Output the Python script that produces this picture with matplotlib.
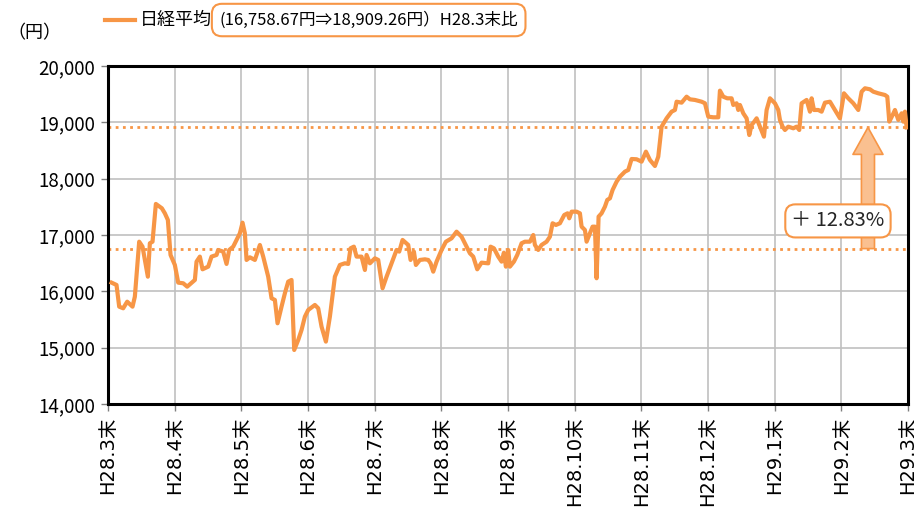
import matplotlib
matplotlib.use("Agg")
import matplotlib.pyplot as plt
import numpy as np
from matplotlib.patches import FancyArrowPatch
from matplotlib.lines import Line2D

plt.rcParams['font.family'] = ['Noto Sans CJK JP', 'DejaVu Sans']

# month labels (month-end positions 0..12)
month_labels = ["H28.3末", "H28.4末", "H28.5末", "H28.6末", "H28.7末", "H28.8末",
                "H28.9末", "H28.10末", "H28.11末", "H28.12末", "H29.1末", "H29.2末", "H29.3末"]

# position in months since H28.3末 and Nikkei value
months = [0.056, 0.13, 0.17, 0.23, 0.29, 0.37, 0.405, 0.47, 0.52, 0.60, 0.63, 0.67,
          0.72, 0.81, 0.855, 0.90, 0.94, 1.005, 1.055, 1.13, 1.19, 1.305, 1.33, 1.38,
          1.42, 1.505, 1.555, 1.63, 1.655, 1.73, 1.78, 1.82, 1.88, 1.93, 1.98, 2.02,
          2.055, 2.08, 2.13, 2.205, 2.28, 2.33, 2.405, 2.455, 2.505, 2.545, 2.605, 2.655,
          2.705, 2.755, 2.795, 2.855, 2.905, 2.955, 3.005, 3.105, 3.155, 3.205, 3.27, 3.33,
          3.405, 3.48, 3.555, 3.605, 3.64, 3.69, 3.73, 3.805, 3.855, 3.88, 3.93, 4.005,
          4.055, 4.12, 4.18, 4.255, 4.33, 4.37, 4.42, 4.505, 4.54, 4.59, 4.62, 4.68,
          4.755, 4.805, 4.84, 4.88, 4.93, 5.005, 5.07, 5.155, 5.23, 5.305, 5.38, 5.43,
          5.48, 5.54, 5.605, 5.705, 5.74, 5.79, 5.855, 5.905, 5.94, 5.97, 6.005, 6.03,
          6.09, 6.14, 6.205, 6.255, 6.33, 6.38, 6.405, 6.455, 6.505, 6.58, 6.63, 6.67,
          6.72, 6.78, 6.845, 6.895, 6.92, 6.955, 7.03, 7.08, 7.105, 7.155, 7.18, 7.23,
          7.27, 7.305, 7.33, 7.36, 7.405, 7.455, 7.49, 7.53, 7.57, 7.63, 7.68, 7.755,
          7.805, 7.855, 7.93, 8.005, 8.07, 8.13, 8.205, 8.255, 8.305, 8.38, 8.455, 8.505,
          8.53, 8.605, 8.68, 8.73, 8.805, 8.905, 8.955, 9.005, 9.08, 9.155, 9.18, 9.23,
          9.29, 9.355, 9.38, 9.43, 9.455, 9.48, 9.53, 9.58, 9.62, 9.655, 9.695, 9.73,
          9.78, 9.84, 9.88, 9.93, 10.005, 10.055, 10.08, 10.12, 10.155, 10.205, 10.28, 10.33,
          10.37, 10.405, 10.48, 10.53, 10.555, 10.59, 10.655, 10.705, 10.755, 10.83, 10.905, 10.98,
          11.04, 11.105, 11.18, 11.255, 11.305, 11.355, 11.43, 11.48, 11.555, 11.655, 11.69, 11.72,
          11.77, 11.805, 11.855, 11.905, 11.93, 11.955, 11.98]
nikkei = [16154, 16113, 15728, 15699, 15816, 15728, 15905, 16881, 16793, 16260, 16853, 16881,
          17551, 17474, 17385, 17267, 16646, 16468, 16154, 16143, 16083, 16202, 16527, 16616,
          16391, 16438, 16616, 16646, 16734, 16705, 16486, 16734, 16793, 16912, 17030, 17219,
          17030, 16557, 16604, 16557, 16823, 16616, 16260, 15877, 15847, 15433, 15728, 15965,
          16172, 16202, 14959, 15136, 15314, 15550, 15669, 15758, 15699, 15373, 15107, 15550,
          16260, 16468, 16498, 16486, 16764, 16793, 16616, 16616, 16379, 16646, 16497, 16586,
          16557, 16054, 16260, 16497, 16734, 16705, 16912, 16823, 16557, 16705, 16468, 16557,
          16568, 16557, 16497, 16349, 16527, 16734, 16881, 16941, 17059, 16970, 16793, 16675,
          16616, 16391, 16509, 16497, 16793, 16764, 16616, 16527, 16686, 16438, 16734, 16438,
          16527, 16646, 16853, 16881, 16881, 17000, 16823, 16734, 16823, 16881, 16970, 17208,
          17178, 17208, 17355, 17385, 17296, 17414, 17414, 17385, 17148, 17089, 16881, 17030,
          17148, 17148, 16232, 17326, 17385, 17503, 17622, 17651, 17799, 17946, 18035, 18124,
          18154, 18349, 18344, 18302, 18479, 18332, 18225, 18390, 18923, 19071, 19189, 19219,
          19366, 19349, 19455, 19408, 19397, 19366, 19338, 19101, 19089, 19089, 19562, 19455,
          19426, 19426, 19308, 19338, 19219, 19308, 19160, 19071, 18775, 18953, 19012, 19071,
          18923, 18745, 19219, 19426, 19338, 19219, 19042, 18923, 18864, 18923, 18894, 18923,
          18864, 19338, 19397, 19189, 19426, 19219, 19219, 19189, 19349, 19366, 19219, 19071,
          19515, 19426, 19338, 19219, 19544, 19604, 19586, 19544, 19515, 19485, 19455, 19012,
          19130, 19219, 19042, 19160, 19012, 19189, 18909]

base_value = 16758.67
last_value = 18909.26
arrow_month = 11.40

orange = "#F79646"

fig = plt.figure(figsize=(9.14, 5.27), dpi=100)
ax = fig.add_axes([0.118, 0.2334, 0.8754, 0.6414])

ax.plot(months, nikkei, color=orange, lw=3.0, solid_joinstyle="round", zorder=3)
ax.axhline(base_value, color=orange, lw=2.0, ls=(0, (1, 1.6)), zorder=2)
ax.axhline(last_value, color=orange, lw=2.0, ls=(0, (1, 1.6)), zorder=2)

# arrow showing the rise
arr = FancyArrowPatch((arrow_month, base_value), (arrow_month, last_value),
                      arrowstyle="Simple,tail_width=0.47,head_width=1.08,head_length=0.97",
                      mutation_scale=20, fc="#FAC090", ec=orange, lw=1.2,
                      shrinkA=0, shrinkB=0, zorder=4)
ax.add_patch(arr)
pct = (last_value / base_value - 1) * 100
ax.text(arrow_month - 0.45, 17250, "＋ %.2f%%" % pct, ha="center", va="center",
        fontsize=14.5, color="#262626", zorder=5,
        bbox=dict(boxstyle="round,pad=0.3,rounding_size=0.5", fc="white", ec=orange, lw=1.5))

ax.set_xlim(0, 12)
ax.set_ylim(14000, 20000)
ax.set_xticks(range(13))
ax.set_xticklabels(month_labels, rotation=90, fontsize=14, family=['DejaVu Sans', 'Noto Sans CJK JP'])
ax.set_yticks(np.arange(14000, 20001, 1000))
ax.set_yticklabels(["{:,}".format(v) for v in range(14000, 20001, 1000)], fontsize=13.5)
ax.tick_params(axis="both", direction="out", length=5, width=1, color="#808080", pad=4)
ax.grid(True, color="#c0c0c0", lw=1.2)
ax.set_axisbelow(True)
for s in ax.spines.values():
    s.set_linewidth(2.2)
    s.set_color("black")

# legend and header texts
fig.add_artist(Line2D([0.115, 0.148], [0.962, 0.962], color=orange, lw=3.0, transform=fig.transFigure))
fig.text(0.153, 0.962, "日経平均", fontsize=13, ha="left", va="center")
fig.text(0.24, 0.962, "(16,758.67円⇒18,909.26円）H28.3末比", fontsize=12, ha="left", va="center",
         bbox=dict(boxstyle="round,pad=0.45,rounding_size=0.6", fc="white", ec=orange, lw=1.5))
fig.text(0.008, 0.937, "（円）", fontsize=13, ha="left", va="center")

fig.savefig("out.png", dpi=100)
